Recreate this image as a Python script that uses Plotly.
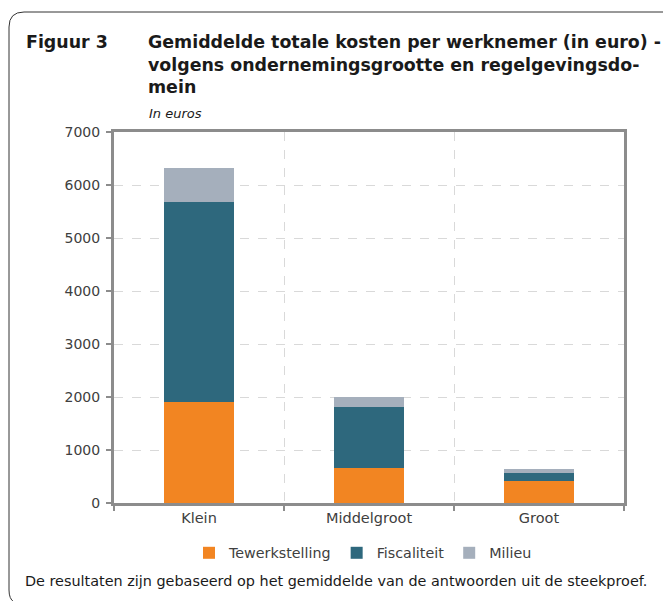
import plotly.graph_objects as go

# data (euro per werknemer)
categories = ['Klein', 'Middelgroot', 'Groot']
tewerkstelling = [1905, 655, 415]
fiscaliteit = [3775, 1160, 145]
milieu = [635, 180, 75]

series_names = ['Tewerkstelling', 'Fiscaliteit', 'Milieu']
series_colors = ['#F28522', '#2E687D', '#A5AFBC']

# page has an 8px body margin, so everything is shifted back by 8px
OFF = 8
W, H = 671 - OFF, 601 - OFF
X0, X1, Y0, Y1 = 114 - OFF, 624 - OFF, 132 - OFF, 503 - OFF

def px(x):
    # x in reference-page pixels -> paper coords
    return (x - OFF - X0) / (X1 - X0)

def py(y):
    return (Y1 - (y - OFF)) / (Y1 - Y0)

FONT = 'DejaVu Sans'
TXT = '#404040'
AXIS = '#8C8C8C'

fig = go.Figure()
for name, vals, col in zip(series_names, [tewerkstelling, fiscaliteit, milieu], series_colors):
    fig.add_trace(go.Bar(
        x = categories, y = vals, name = name,
        marker = dict(color = col, line = dict(width = 0)),
        width = 0.41
    ))

fig.update_layout(
    barmode = 'stack',
    width = W, height = H,
    margin = dict(l = X0, r = W - X1, t = Y0, b = H - Y1, pad = 0),
    paper_bgcolor = 'white', plot_bgcolor = 'white',
    font = dict(family = FONT, size = 14, color = TXT),
    showlegend = True,
    legend = dict(
        orientation = 'h', x = px(363), xanchor = 'center', y = py(553), yanchor = 'middle',
        font = dict(size = 14.3, color = TXT), traceorder = 'normal',
        itemwidth = 30, bgcolor = 'rgba(0,0,0,0)'
    ),
)

fig.update_xaxes(
    showline = True, linecolor = AXIS, linewidth = 3, mirror = True,
    ticks = 'outside', ticklen = 5, tickcolor = AXIS, tickwidth = 2,
    tickson = 'boundaries',
    showgrid = True, gridcolor = '#D9D9D9', griddash = 'dash', gridwidth = 1,
    tickfont = dict(size = 14.5, color = TXT)
)
fig.update_yaxes(
    range = [0, 7000], dtick = 1000,
    showline = True, linecolor = AXIS, linewidth = 3, mirror = True,
    ticks = 'outside', ticklen = 5, tickcolor = AXIS, tickwidth = 2,
    showgrid = True, gridcolor = '#D9D9D9', griddash = 'dash', gridwidth = 1,
    tickfont = dict(size = 14, color = TXT), tickformat = 'd',
    ticklabelstandoff = 3, zeroline = False
)

# outer rounded frame
path = 'M {a},{b} Q {c},{d} {e},{f} L {g},{h} Q {i},{j} {k},{l} L {m},{n}'.format(
    a = px(14), b = py(602), c = px(9), d = py(599), e = px(9), f = py(590),
    g = px(9), h = py(27), i = px(9), j = py(12), k = px(24), l = py(12),
    m = px(680), n = py(12))
fig.add_shape(type = 'path', path = path, xref = 'paper', yref = 'paper',
              line = dict(color = '#333333', width = 1))

# titles
fig.add_annotation(text = '<b>Figuur 3</b>', xref = 'paper', yref = 'paper',
                   x = px(24), y = py(42), xanchor = 'left', yanchor = 'middle',
                   showarrow = False, font = dict(size = 17.4, color = '#1a1a1a'))
fig.add_annotation(text = '<b>Gemiddelde totale kosten per werknemer (in euro) -<br>'
                          'volgens ondernemingsgrootte en regelgevingsdo-<br>mein</b>',
                   xref = 'paper', yref = 'paper', align = 'left',
                   x = px(146), y = py(30), xanchor = 'left', yanchor = 'top',
                   showarrow = False, font = dict(size = 17.4, color = '#1a1a1a'))
fig.add_annotation(text = '<i>In euros</i>', xref = 'paper', yref = 'paper',
                   x = px(147), y = py(113), xanchor = 'left', yanchor = 'middle',
                   showarrow = False, font = dict(size = 13, color = '#1a1a1a'))
fig.add_annotation(text = 'De resultaten zijn gebaseerd op het gemiddelde van de antwoorden uit de steekproef.',
                   xref = 'paper', yref = 'paper',
                   x = px(23), y = py(581), xanchor = 'left', yanchor = 'middle',
                   showarrow = False, font = dict(size = 14.4, color = '#1a1a1a'))

fig.write_html("out.html")
